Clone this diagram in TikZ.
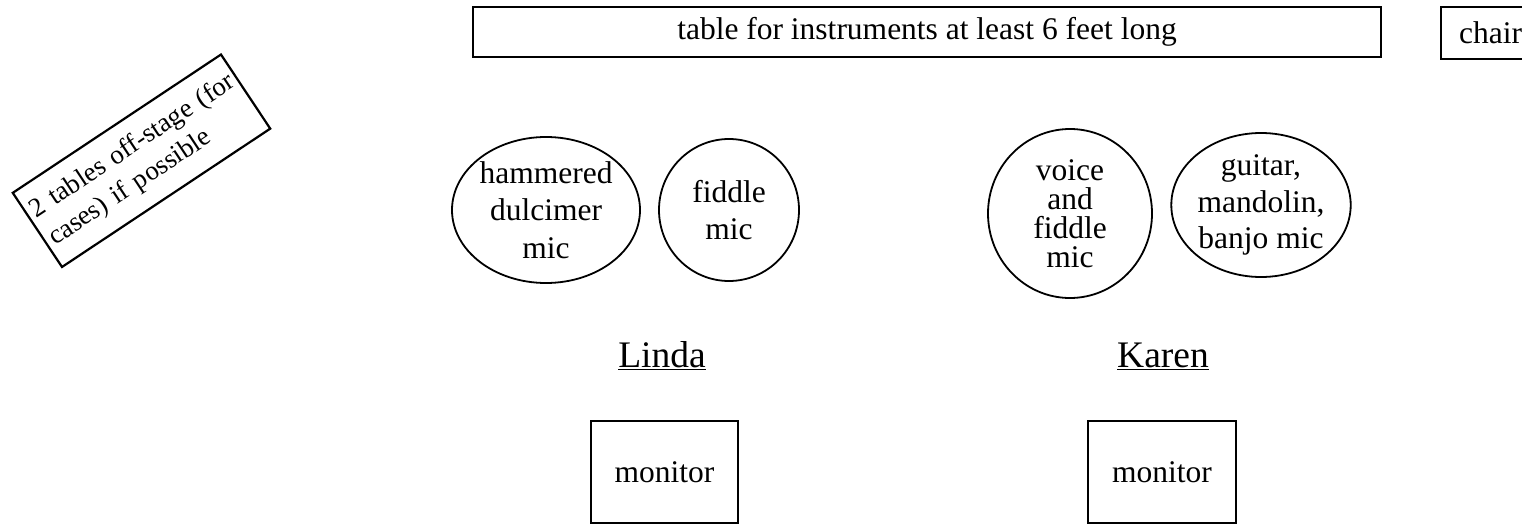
\documentclass[tikz,border=0pt]{standalone}
\usepackage{fontspec}
\setmainfont{Liberation Serif}
\usetikzlibrary{shapes.geometric}
\begin{document}
\begin{tikzpicture}[x=1pt,y=-1pt,
  txt/.style={font=\fontsize{31.5}{37.5}\selectfont},
  box/.style={draw, line width=2.2pt, inner sep=0pt, txt},
  mic/.style={draw, ellipse, line width=1.8pt, inner sep=0pt, align=center, txt},
  person/.style={font=\fontsize{37.5}{42}\selectfont, inner sep=0pt, anchor=base}]
\useasboundingbox (0,0) rectangle (1522,527);
\clip (0,0) rectangle (1522,527);
% tables
\node[box, minimum width=908pt, minimum height=50pt] (table) at (927,32) {table for instruments at least 6 feet long};
\node[box, minimum width=99pt, minimum height=52pt] (chair) at (1490.5,33) {chair};
\node[box, rotate=33.6, minimum width=250pt, minimum height=89pt, align=left, text width=238pt,
  font=\fontsize{27}{33}\selectfont] (offstage) at (141.5,160.75) {\mbox{2 tables off-stage (for}\\\mbox{cases) if possible}};
% mics
\node[mic, minimum width=186pt, minimum height=146pt] (hd) at (546,210) {hammered\\dulcimer\\mic};
\node[mic, minimum width=140pt, minimum height=142pt] (fm) at (729,210) {fiddle\\mic};
\node[mic, minimum width=164pt, minimum height=169pt, font=\fontsize{31.5}{29}\selectfont] (vf) at (1070,213.5) {voice\\and\\fiddle\\mic};
\node[mic, minimum width=178pt, minimum height=144pt, font=\fontsize{31.5}{36.5}\selectfont] (gm) at (1261,205) {guitar,\\mandolin,\\banjo mic};
% players
\node[person] (linda) at (662,367) {\underline{Linda}};
\node[person] (karen) at (1163,367) {\underline{Karen}};
% monitors
\node[box, minimum width=147pt, minimum height=102pt] (mon1) at (664.5,472) {monitor};
\node[box, minimum width=148pt, minimum height=102pt] (mon2) at (1162,472) {monitor};
\end{tikzpicture}
\end{document}
